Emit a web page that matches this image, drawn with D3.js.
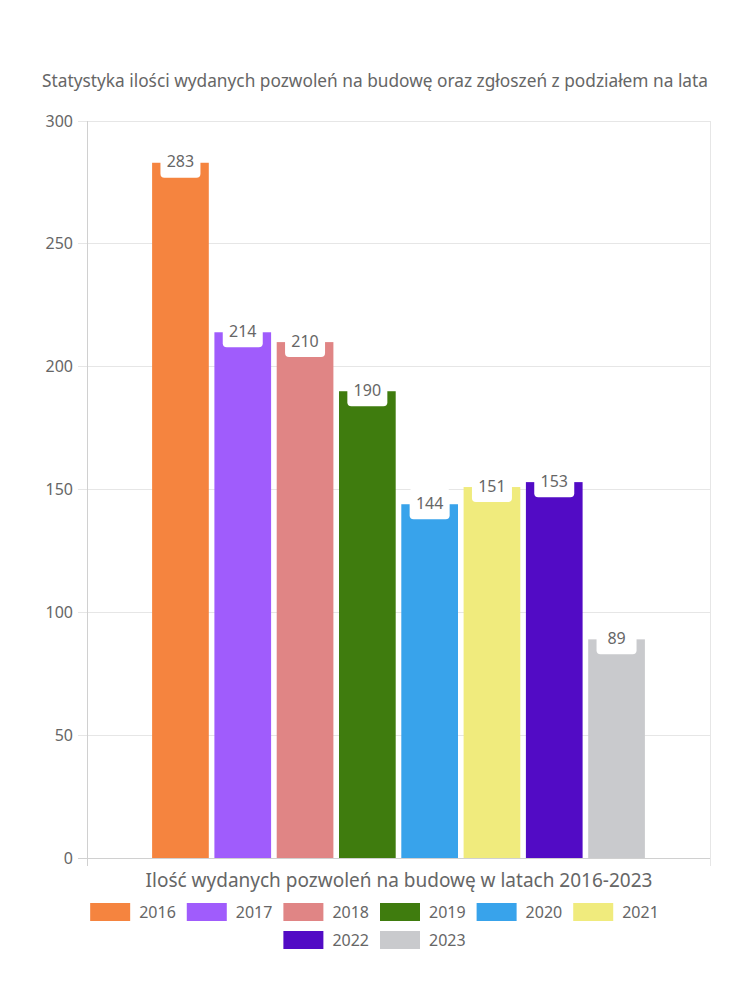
<!DOCTYPE html>
<html>
<head>
<meta charset="utf-8">
<script src="https://cdn.jsdelivr.net/npm/d3@7"></script>
<style>
  body { margin: 0; background: #fff; }
  svg { font-family: "Noto Sans", sans-serif; }
</style>
</head>
<body>
<div id="chart"></div>
<script>
// data
var years = ["2016", "2017", "2018", "2019", "2020", "2021", "2022", "2023"];
var permits = [283, 214, 210, 190, 144, 151, 153, 89];
var colors = ["#f5843f", "#a05cfc", "#e08585", "#3f7c0e", "#38a3eb", "#f0eb7d", "#520bc5", "#c9cacd"];
var yTicks = [0, 50, 100, 150, 200, 250, 300];
var title = "Statystyka ilości wydanych pozwoleń na budowę oraz zgłoszeń z podziałem na lata";
var xTitle = "Ilość wydanych pozwoleń na budowę w latach 2016-2023";

var width = 750, height = 1000;
var margin = {top: 121, right: 40, bottom: 142, left: 87};
var plotW = width - margin.left - margin.right,
    plotH = height - margin.top - margin.bottom;

var svg = d3.select("#chart").append("svg")
    .attr("width", width)
    .attr("height", height);

svg.append("text")
    .attr("x", 375)
    .attr("y", 87)
    .attr("text-anchor", "middle")
    .attr("fill", "#666")
    .style("font-size", "17.3px")
    .text(title);

var y = d3.scaleLinear().domain([0, 300]).range([plotH, 0]);

// one category holding 8 datasets
var outer = d3.scaleBand().domain(["all"]).range([0, plotW]).paddingInner(0).paddingOuter(0.125);
var x = d3.scaleBand().domain(years)
    .range([outer("all"), outer("all") + outer.bandwidth()])
    .paddingInner(0.09).paddingOuter(0.045);

var g = svg.append("g")
    .attr("transform", "translate(" + margin.left + "," + margin.top + ")");

// grid
g.selectAll(".grid")
    .data(yTicks)
    .enter().append("line")
    .attr("x1", -9).attr("x2", plotW)
    .attr("y1", function(d) { return y(d); })
    .attr("y2", function(d) { return y(d); })
    .attr("stroke", function(d) { return d === 0 ? "#d0d0d0" : "#e6e6e6"; })
    .attr("stroke-width", 1)
    .attr("shape-rendering", "crispEdges");

[0, plotW].forEach(function(px) {
    g.append("line")
        .attr("x1", px).attr("x2", px)
        .attr("y1", 0).attr("y2", plotH + 8)
        .attr("stroke", px === 0 ? "#d0d0d0" : "#e6e6e6")
        .attr("shape-rendering", "crispEdges");
});

g.selectAll(".ytick")
    .data(yTicks)
    .enter().append("text")
    .attr("x", -14)
    .attr("y", function(d) { return y(d); })
    .attr("dy", "0.35em")
    .attr("text-anchor", "end")
    .attr("fill", "#666")
    .style("font-size", "16px")
    .text(function(d) { return d; });

// bars
g.selectAll(".bar")
    .data(years)
    .enter().append("rect")
    .attr("x", function(d) { return x(d); })
    .attr("width", x.bandwidth())
    .attr("y", function(d, i) { return y(permits[i]); })
    .attr("height", function(d, i) { return plotH - y(permits[i]); })
    .attr("fill", function(d, i) { return colors[i]; });

// value labels
var labels = g.selectAll(".lbl")
    .data(years)
    .enter().append("g")
    .attr("transform", function(d, i) {
        return "translate(" + (x(d) + x.bandwidth() / 2) + "," + y(permits[i]) + ")";
    });

labels.append("rect")
    .attr("x", -20).attr("y", -16)
    .attr("width", 40).attr("height", 31)
    .attr("rx", 4)
    .attr("fill", "#fff");

labels.append("text")
    .attr("y", -1)
    .attr("text-anchor", "middle")
    .attr("dy", "0.35em")
    .attr("fill", "#666")
    .style("font-size", "16px")
    .text(function(d, i) { return permits[i]; });

svg.append("text")
    .attr("x", 399)
    .attr("y", 887)
    .attr("text-anchor", "middle")
    .attr("fill", "#666")
    .style("font-size", "19px")
    .text(xTitle);

// legend with wrapping rows
var boxW = 40, boxH = 18, pad = 10, maxRow = 640;
var legend = svg.append("g");
var items = years.map(function(d, i) {
    var t = legend.append("text")
        .attr("fill", "#666")
        .style("font-size", "16px")
        .text(d);
    return {t: t, w: boxW + pad + t.node().getComputedTextLength(), i: i};
});
var rows = [[]], rowW = [0];
items.forEach(function(it) {
    var r = rows.length - 1;
    var add = it.w + (rows[r].length ? pad : 0);
    if (rowW[r] + add > maxRow) {
        rows.push([it]); rowW.push(it.w);
    } else {
        rows[r].push(it); rowW[r] += add;
    }
});
rows.forEach(function(row, ri) {
    var cx = 375 - rowW[ri] / 2;
    var cy = 912 + ri * 28;
    row.forEach(function(it) {
        legend.append("rect")
            .attr("x", cx).attr("y", cy - boxH / 2)
            .attr("width", boxW).attr("height", boxH)
            .attr("fill", colors[it.i]);
        it.t.attr("x", cx + boxW + 9).attr("y", cy).attr("dy", "0.35em");
        cx += it.w + pad;
    });
});
</script>
</body>
</html>
